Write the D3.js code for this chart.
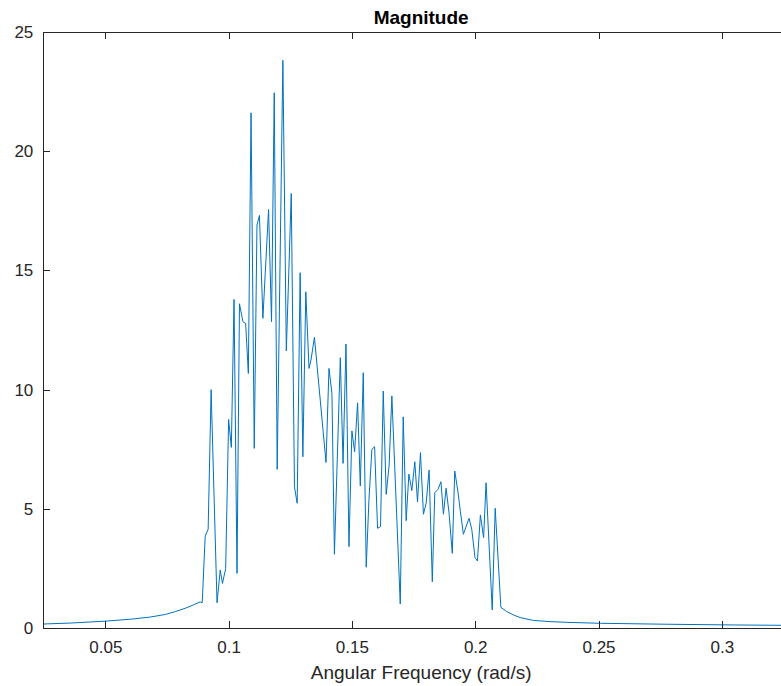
<!DOCTYPE html>
<html>
<head>
<meta charset="utf-8">
<script src="https://cdn.jsdelivr.net/npm/d3@7"></script>
<style>
    body { margin: 0; background: #fff; }
    svg { display: block; font-family: "Liberation Sans", Arial, Helvetica, sans-serif; }
</style>
</head>
<body>
<svg></svg>
<script>
// frequency (rad/s) and magnitude
let freq = [
    0.02485, 0.0358, 0.0500, 0.0601, 0.0682, 0.0743, 0.0784, 0.0824, 0.0857, 0.0885,
    0.0893, 0.0905, 0.0917, 0.0929, 0.0953, 0.0966, 0.0975, 0.0988, 0.1000, 0.1011,
    0.1022, 0.1034, 0.1044, 0.1058, 0.1069, 0.1080, 0.1091, 0.1104, 0.1115, 0.1125,
    0.1139, 0.1162, 0.1174, 0.1185, 0.1197, 0.1220, 0.1234, 0.1254, 0.1267, 0.1278,
    0.1290, 0.1301, 0.1313, 0.1326, 0.1334, 0.1348, 0.1395, 0.1407, 0.1419, 0.1429,
    0.1453, 0.1464, 0.1476, 0.1488, 0.1500, 0.1511, 0.1523, 0.1534, 0.1546, 0.1558,
    0.1569, 0.1581, 0.1592, 0.1604, 0.1616, 0.1627, 0.1639, 0.1651, 0.1662, 0.1696,
    0.1708, 0.1720, 0.1731, 0.1743, 0.1755, 0.1766, 0.1778, 0.1790, 0.1801, 0.1813,
    0.1826, 0.1836, 0.1849, 0.1861, 0.1871, 0.1882, 0.1894, 0.1907, 0.1917, 0.1930,
    0.1940, 0.1952, 0.1963, 0.1975, 0.1986, 0.1999, 0.2009, 0.2021, 0.2034, 0.2044,
    0.2069, 0.2081, 0.2104, 0.2128, 0.2155, 0.2182, 0.2236, 0.2304, 0.2372, 0.2507,
    0.2777, 0.3047, 0.3313
];
let magnitude = [
    0.18, 0.22, 0.30, 0.38, 0.47, 0.58, 0.70, 0.84, 0.98, 1.11,
    1.07, 3.87, 4.15, 10.0, 1.07, 2.44, 1.88, 2.5, 8.75, 7.58,
    13.78, 2.30, 13.6, 12.85, 12.78, 10.68, 21.6, 7.54, 16.9, 17.3,
    12.99, 17.55, 12.85, 22.44, 6.66, 23.8, 11.62, 18.22, 5.93, 5.24,
    14.9, 7.19, 14.1, 10.89, 11.24, 12.19, 6.95, 10.89, 9.84, 3.10,
    11.34, 6.91, 11.91, 3.42, 8.27, 7.40, 9.45, 5.96, 10.71, 2.56,
    5.37, 7.50, 7.61, 4.19, 4.26, 9.94, 5.61, 6.84, 9.74, 1.02,
    8.86, 4.51, 6.46, 5.77, 6.98, 5.30, 7.36, 4.78, 5.24, 6.63,
    1.95, 5.68, 5.82, 6.14, 4.78, 5.87, 4.82, 3.14, 6.59, 5.72,
    4.89, 3.94, 4.26, 4.61, 4.15, 2.97, 2.82, 4.75, 3.80, 6.10,
    0.77, 5.03, 0.88, 0.70, 0.56, 0.45, 0.33, 0.28, 0.25, 0.21,
    0.17, 0.14, 0.12
];
let xTicks = [0.05, 0.1, 0.15, 0.2, 0.25, 0.3];
let yTicks = [0, 5, 10, 15, 20, 25];
let xDomain = [0.02485, 0.3313];
let yDomain = [0, 25];

let width = 781, height = 686;
let plotLeft = 43.3, plotRight = 799, plotTop = 31.7, plotBottom = 628.3;
let axisColor = '#262626';

let svg = d3.select('svg').attr('width', width).attr('height', height);

let xScale = d3.scaleLinear().domain(xDomain).range([plotLeft, plotRight]);
let yScale = d3.scaleLinear().domain(yDomain).range([plotBottom, plotTop]);

// clip the curve to the axes box
svg.append('clipPath').attr('id', 'plot-clip')
    .append('rect')
    .attr('x', plotLeft).attr('y', plotTop)
    .attr('width', plotRight - plotLeft).attr('height', plotBottom - plotTop);

let values = freq.map((f, i) => [f, magnitude[i]]);

let line = d3.line()
    .x((d) => xScale(d[0]))
    .y((d) => yScale(d[1]));

svg.append('path')
    .datum(values)
    .attr('clip-path', 'url(#plot-clip)')
    .attr('d', line)
    .attr('fill', 'none')
    .attr('stroke', '#0072BD')
    .attr('stroke-width', 1)
    .attr('stroke-linejoin', 'round');

// axes: ticks point inward, like MATLAB
let styleAxis = (g) => {
    g.selectAll('.domain').attr('stroke', axisColor);
    g.selectAll('.tick line').attr('stroke', axisColor);
    g.selectAll('.tick text').attr('fill', axisColor).style('font-size', '17px');
};

svg.append('g')
    .attr('transform', `translate(0, ${plotBottom})`)
    .call(d3.axisBottom(xScale).tickValues(xTicks).tickFormat(d3.format('')).tickSizeInner(-7).tickSizeOuter(0).tickPadding(13))
    .call(styleAxis);

svg.append('g')
    .attr('transform', `translate(0, ${plotTop})`)
    .call(d3.axisTop(xScale).tickValues(xTicks).tickFormat('').tickSizeInner(-7).tickSizeOuter(0))
    .call(styleAxis);

svg.append('g')
    .attr('transform', `translate(${plotLeft}, 0)`)
    .call(d3.axisLeft(yScale).tickValues(yTicks).tickFormat(d3.format('')).tickSizeInner(-7).tickSizeOuter(0).tickPadding(10))
    .call(styleAxis);

svg.append('g')
    .attr('transform', `translate(${plotRight}, 0)`)
    .call(d3.axisRight(yScale).tickValues(yTicks).tickFormat('').tickSizeInner(-7).tickSizeOuter(0))
    .call(styleAxis);

svg.selectAll('.domain, .tick line').attr('shape-rendering', 'crispEdges');

// title and x label
let midX = (plotLeft + plotRight) / 2;

svg.append('text')
    .attr('x', midX).attr('y', 24)
    .attr('text-anchor', 'middle')
    .attr('font-weight', 'bold')
    .attr('font-size', '19px')
    .attr('fill', '#000')
    .text('Magnitude');

svg.append('text')
    .attr('x', midX).attr('y', 678.5)
    .attr('text-anchor', 'middle')
    .attr('font-size', '19px')
    .attr('fill', axisColor)
    .text('Angular Frequency (rad/s)');
</script>
</body>
</html>
